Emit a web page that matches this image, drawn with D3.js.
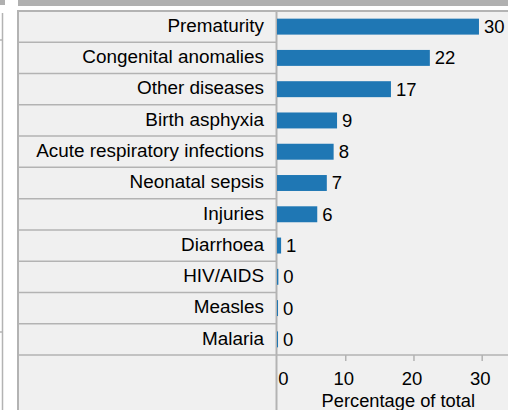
<!DOCTYPE html>
<html>
<head>
<meta charset="utf-8">
<script src="https://cdn.jsdelivr.net/npm/d3@7"></script>
<style>
  html, body { margin: 0; padding: 0; background: #ffffff; }
  svg { display: block; font-family: Arial, "Liberation Sans", sans-serif; }
</style>
</head>
<body>
<svg id="chart" width="508" height="410"></svg>
<script>
const categories = ["Prematurity", "Congenital anomalies", "Other diseases", "Birth asphyxia",
  "Acute respiratory infections", "Neonatal sepsis", "Injuries", "Diarrhoea",
  "HIV/AIDS", "Measles", "Malaria"];
const values = [29.6, 22.4, 16.7, 8.8, 8.3, 7.3, 5.9, 0.6, 0.2, 0.15, 0.15];
const tickValues = [0, 10, 20, 30];
const axisTitle = "Percentage of total";

const svg = d3.select("#chart");
const W = 508, H = 410;
const panelLeft = 18, panelTop = 11, divider = 277, rowsBottom = 355;
const lineColor = "#b3b3b3";
const barColor = "#1f77b4";
const textColor = "#000";

// left fragment
svg.append("rect").attr("x", 0).attr("y", 0).attr("width", 5).attr("height", 5).attr("fill", "#b0b0b0");
svg.append("line").attr("x1", 2.5).attr("x2", 2.5).attr("y1", 13).attr("y2", H)
  .attr("stroke", lineColor).attr("stroke-width", 1.5);
[40, 332].forEach(yy => svg.append("line").attr("x1", 0).attr("x2", 3).attr("y1", yy).attr("y2", yy)
  .attr("stroke", lineColor).attr("stroke-width", 1.5));

// top strip
svg.append("rect").attr("x", panelLeft).attr("y", 0).attr("width", W - panelLeft).attr("height", 6).attr("fill", "#b0b0b0");

// panel
svg.append("rect").attr("x", panelLeft).attr("y", panelTop).attr("width", W - panelLeft + 5).attr("height", H - panelTop + 5)
  .attr("fill", "#f0f0f0").attr("stroke", lineColor).attr("stroke-width", 2);

const rows = d3.scaleBand().domain(categories).range([panelTop, rowsBottom]).padding(0);
const y = d3.scaleBand().domain(categories).range([panelTop, rowsBottom]).paddingInner(0.49).paddingOuter(0.245);
const x = d3.scaleLinear().domain([0, 30]).range([divider, 481.7]);

// row lines (label column)
svg.append("g").selectAll("line").data(categories.slice(1)).join("line")
  .attr("x1", panelLeft).attr("x2", divider)
  .attr("y1", d => rows(d)).attr("y2", d => rows(d))
  .attr("stroke", lineColor).attr("stroke-width", 1.5);

// bottom line full width
svg.append("line").attr("x1", panelLeft).attr("x2", W).attr("y1", rowsBottom).attr("y2", rowsBottom)
  .attr("stroke", lineColor).attr("stroke-width", 1.5);

// divider
svg.append("line").attr("x1", divider - 0.5).attr("x2", divider - 0.5).attr("y1", panelTop).attr("y2", H)
  .attr("stroke", lineColor).attr("stroke-width", 2);

// labels
svg.append("g").selectAll("text").data(categories).join("text")
  .attr("x", 264).attr("y", d => rows(d) + rows.bandwidth() / 2)
  .attr("dy", "0.28em").attr("text-anchor", "end")
  .attr("font-size", 18.9).attr("fill", textColor).text(d => d);

// bars
const data = categories.map((c, i) => ({c, v: values[i]}));
svg.append("g").selectAll("rect").data(data).join("rect")
  .attr("x", x(0)).attr("y", d => y(d.c))
  .attr("width", d => Math.max(1, x(d.v) - x(0))).attr("height", y.bandwidth())
  .attr("fill", barColor);

// value labels
svg.append("g").selectAll("text").data(data).join("text")
  .attr("x", d => Math.max(x(d.v), x(0) + 1) + 5)
  .attr("y", d => rows(d.c) + rows.bandwidth() / 2)
  .attr("dy", "0.35em").attr("font-size", 18.5).attr("fill", textColor)
  .text(d => d3.format(".0f")(d.v));

// axis
const axis = d3.axisBottom(x).tickValues(tickValues).tickSize(6).tickPadding(8).tickFormat(d3.format("d"));
const ag = svg.append("g").attr("transform", `translate(0,${rowsBottom})`).call(axis);
ag.select(".domain").remove();
ag.selectAll(".tick line").attr("stroke", lineColor).attr("stroke-width", 1.5)
  .filter(d => d === 0).remove();
ag.selectAll(".tick text").attr("font-size", 18.5).attr("fill", textColor)
  .attr("font-family", "Arial, 'Liberation Sans', sans-serif")
  .attr("y", 30).attr("dy", 0)
  .attr("x", d => d === 0 ? 6 : -2);

svg.append("text").attr("x", (321.7 + 475) / 2).attr("y", 407)
  .attr("text-anchor", "middle").attr("font-size", 18.3).attr("fill", textColor).text(axisTitle);
</script>
</body>
</html>
